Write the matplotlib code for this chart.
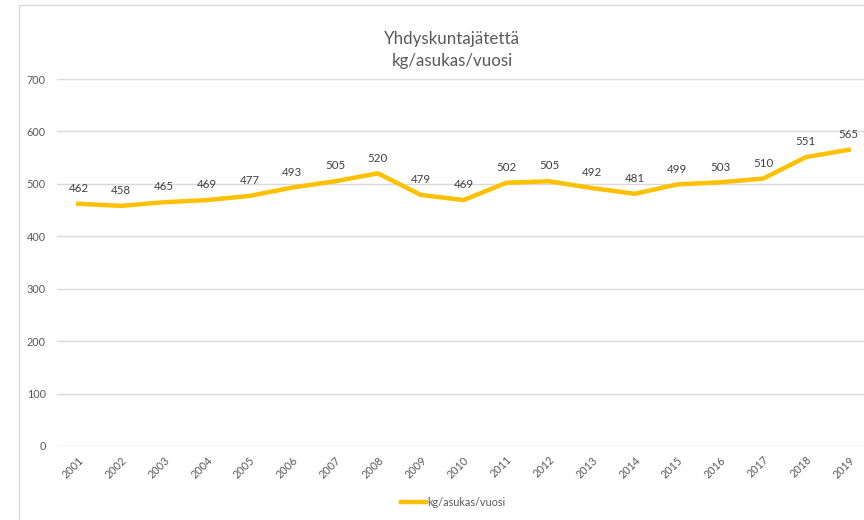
import matplotlib
matplotlib.use("Agg")
import matplotlib.pyplot as plt
from matplotlib.patches import Rectangle

years = [str(y) for y in range(2001, 2020)]
values = [462, 458, 465, 469, 477, 493, 505, 520, 479, 469, 502, 505, 492, 481, 499, 503, 510, 551, 565]
yticks = [0, 100, 200, 300, 400, 500, 600, 700]
title = "Yhdyskuntajätettä\nkg/asukas/vuosi"
series_name = "kg/asukas/vuosi"

plt.rcParams['font.family'] = ['Lato', 'DejaVu Sans']
W, H = 864, 520
fig = plt.figure(figsize=(W / 100, H / 100), dpi=100)

# chart area border
fig.patches.append(Rectangle((19 / W, -0.1), 1.2, 1 - 5 / H + 0.1, transform=fig.transFigure,
                             fill=False, edgecolor='#d9d9d9', linewidth=1.0))

left, right = 57 / W, 870 / W
bottom, top = 1 - 446 / H, 1 - 79 / H
ax = fig.add_axes([left, bottom, right - left, top - bottom])

x = list(range(len(years)))
line, = ax.plot(x, values, color='#FFC000', linewidth=3.2, solid_joinstyle='miter', label=series_name)
for xi, v in zip(x, values):
    ax.annotate(str(v), (xi, v), xytext=(0, 11), textcoords='offset points',
                ha='center', va='center', fontsize=8.3, color='#404040')

ax.set_xlim(-0.5, len(years) - 0.5)
ax.set_ylim(0, 700)
ax.set_yticks(yticks)
ax.set_yticklabels([str(t) for t in yticks])
ax.set_xticks(x)
ax.set_xticklabels(years, rotation=45, ha='right', rotation_mode='anchor')
ax.tick_params(axis='both', length=0, labelsize=7.8, labelcolor='#595959')
ax.tick_params(axis='y', pad=8)
ax.tick_params(axis='x', pad=6)
ax.grid(axis='y', color='#d9d9d9', linewidth=1.0)
ax.set_axisbelow(True)
for s in ax.spines.values():
    s.set_visible(False)

fig.text(452 / W, 1 - 50 / H, title, ha='center', va='center', fontsize=12.2,
         color='#595959', linespacing=1.5)

fig.legend(handles=[line], labels=[series_name], loc='center', bbox_to_anchor=(453 / W, 1 - 502 / H),
           frameon=False, fontsize=7.8, labelcolor='#595959', handlelength=2.3, handletextpad=0.15)

fig.savefig('out.png', dpi=100)
